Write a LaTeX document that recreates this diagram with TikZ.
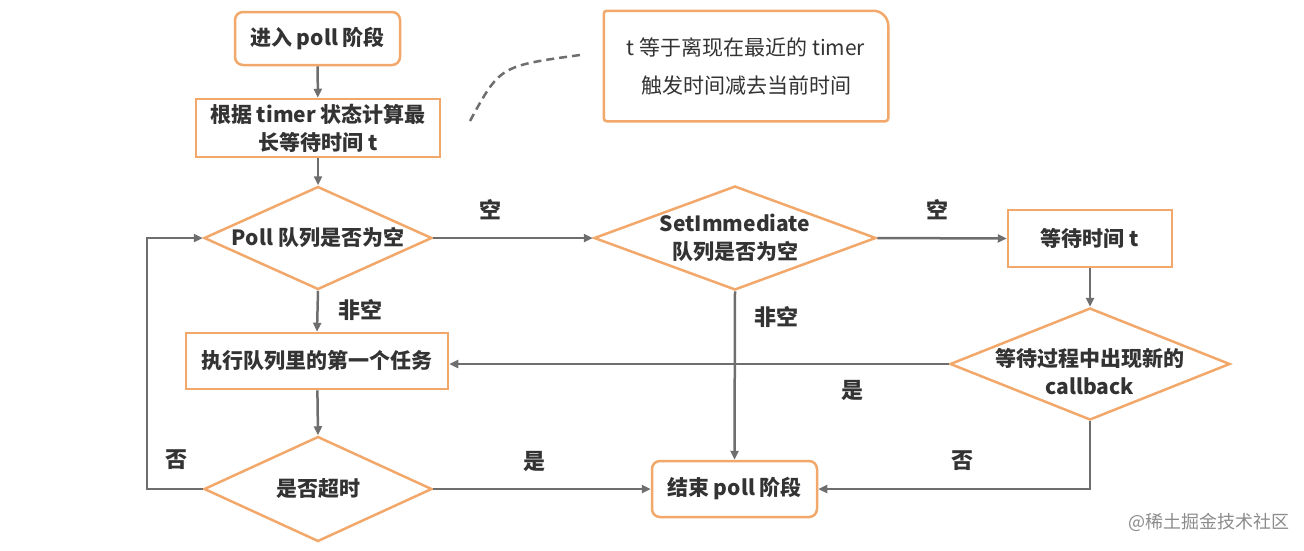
\documentclass[tikz,border=0pt]{standalone}
\usepackage{fontspec}
\setmainfont{Noto Sans CJK SC}
\usetikzlibrary{arrows.meta,shapes.geometric}
\definecolor{boxorange}{HTML}{F2A86A}
\definecolor{linegray}{HTML}{6E6E6E}
\definecolor{txtgray}{HTML}{333333}
\tikzset{
  box/.style={draw=boxorange, line width=2.5pt, fill=white, text=txtgray,
    font=\bfseries\fontsize{21}{28}\selectfont, align=center, inner sep=0pt},
  rbox/.style={box, rounded corners=8pt},
  dia/.style={diamond, draw=boxorange, line width=2.5pt, fill=white, inner sep=0pt},
  dtext/.style={text=txtgray, font=\bfseries\fontsize{21}{28}\selectfont, align=center},
  flow/.style={draw=linegray, line width=2.5pt, -{Triangle[length=9pt,width=8pt]}},
  lbl/.style={text=txtgray, font=\bfseries\fontsize{22}{24}\selectfont},
}
\begin{document}
\begin{tikzpicture}[x=1pt,y=-1pt]
  \useasboundingbox (0,0) rectangle (1304,550);
  % boxes
  \node[rbox, minimum width=165pt, minimum height=53pt] (start) at (317.5,38.5) {进入 poll 阶段};
  \node[box, minimum width=244pt, minimum height=58pt] (calc) at (318,128) {根据 timer 状态计算最\\长等待时间 t};
  \node[box, draw=none, font=\fontsize{21}{38}\selectfont, minimum width=282pt, minimum height=108pt] (note) at (746,66) {t 等于离现在最近的 timer\\触发时间减去当前时间};
  \node[box, minimum width=164pt, minimum height=57pt] (wait) at (1090,238.5) {等待时间 t};
  \node[box, minimum width=262pt, minimum height=56pt] (exec) at (317,361) {执行队列里的第一个任务};
  \node[rbox, minimum width=165pt, minimum height=56pt] (end) at (734.5,489) {结束 poll 阶段};
  % decisions
  \node[dia, minimum width=228pt, minimum height=103pt,
    label={[dtext]center:Poll 队列是否为空}] (pollq) at (318,238) {};
  \node[dia, minimum width=282pt, minimum height=104pt,
    label={[dtext]center:SetImmediate\\队列是否为空}] (immq) at (735,238) {};
  \node[dia, minimum width=280pt, minimum height=112pt,
    label={[dtext, yshift=-8pt]center:等待过程中出现新的\\callback}] (cbq) at (1090,364) {};
  \node[dia, minimum width=228pt, minimum height=105pt,
    label={[dtext]center:是否超时}] (timeq) at (318,489) {};
  % note border and pointer
  \draw[draw=boxorange, line width=2.5pt, rounded corners=3pt] (note.south west) -- (note.north west)
    [rounded corners=15pt] -- (note.north east) [rounded corners=3pt] -- (note.south east) -- cycle;
  \coordinate (tipA) at (470,121);
  \coordinate (tipB) at (580,55);
  \draw[linegray, line width=2.5pt, dash pattern=on 8pt off 5pt] (tipA) .. controls (500,66) .. (tipB);
  % connectors
  \coordinate (loop) at (147,489);
  \draw[flow] (start) -- (calc);
  \draw[flow] (calc) -- (pollq);
  \draw[flow] (pollq.east) -- (immq.west);
  \draw[flow] (immq.east) -- (wait.west);
  \draw[flow] (wait) -- (cbq.north);
  \draw[flow] (pollq.south) -- (exec.north);
  \draw[flow] (immq.south) -- (end.north);
  \draw[flow] (cbq.west) -- (cbq.west -| exec.east);
  \draw[flow] (exec) -- (timeq.north);
  \draw[flow] (timeq.east) -- (end.west);
  \draw[flow] (cbq.south) |- (end.east);
  \draw[flow] (timeq.west) -- (loop) |- (pollq.west);
  % labels
  \node[lbl] (l1) at (490,210) {空};
  \node[lbl] (l2) at (937,210) {空};
  \node[lbl] (l3) at (360,310) {非空};
  \node[lbl] (l4) at (776,317) {非空};
  \node[lbl] (l5) at (852,390) {是};
  \node[lbl] (l6) at (534,461) {是};
  \node[lbl] (l7) at (176,460) {否};
  \node[lbl] (l8) at (962,461) {否};
  \node[text=linegray!80, font=\fontsize{18}{20}\selectfont] (mark) at (1209,522) {@稀土掘金技术社区};
\end{tikzpicture}
\end{document}
